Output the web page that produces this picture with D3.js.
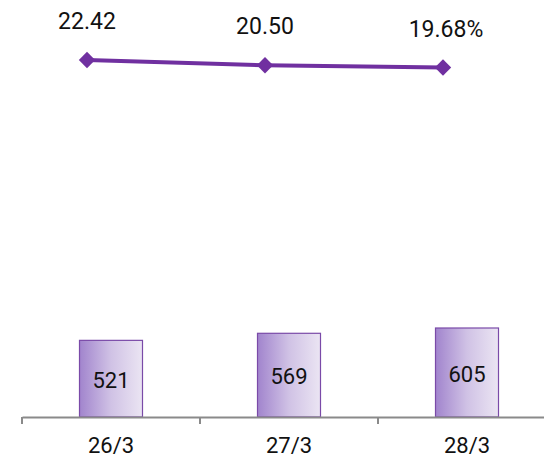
<!DOCTYPE html>
<html>
<head>
<meta charset="utf-8">
<script src="https://cdn.jsdelivr.net/npm/d3@7"></script>
<style>
  body { margin: 0; background: #fff; }
  text { font-family: Roboto, "Noto Sans CJK JP", sans-serif; fill: #111; }
</style>
</head>
<body>
<div id="chart"></div>
<script>
// data
const categories = ["26/3", "27/3", "28/3"];
const barValues = [521, 569, 605];
const rateValues = [22.42, 20.50, 19.68];
const rateLabels = ["22.42", "20.50", "19.68%"];

const width = 544, height = 460;

let svg = d3.select("#chart")
  .append("svg")
  .attr("width", width)
  .attr("height", height);

// gradient for bars
let defs = svg.append("defs");
let grad = defs.append("linearGradient")
  .attr("id", "barGrad")
  .attr("x1", "0%").attr("x2", "100%")
  .attr("y1", "0%").attr("y2", "0%");
grad.append("stop").attr("offset", "0%").attr("stop-color", "#a184cd");
grad.append("stop").attr("offset", "50%").attr("stop-color", "#d0c2e5");
grad.append("stop").attr("offset", "100%").attr("stop-color", "#ebe5f3");

// x scale (band)
const x = d3.scaleBand()
  .domain(categories)
  .range([22, 556])
  .paddingInner(0)
  .paddingOuter(0);

const baseY = 417;

// bar y scale
const yBar = d3.scaleLinear()
  .domain([0, 605])
  .range([baseY, 328]);

// line y scale
const yLine = d3.scaleLinear()
  .domain([19.68, 22.42])
  .range([67.5, 60]);

const barW = 63;

// bars
svg.append("g")
  .selectAll("rect")
  .data(barValues)
  .join("rect")
  .attr("x", (d, i) => x(categories[i]) + x.bandwidth() / 2 - barW / 2)
  .attr("y", d => yBar(d))
  .attr("width", barW)
  .attr("height", d => baseY - yBar(d))
  .attr("fill", "url(#barGrad)")
  .attr("stroke", "#7a4aa8")
  .attr("stroke-width", 1.2);

// bar labels
svg.append("g")
  .selectAll("text")
  .data(barValues)
  .join("text")
  .attr("x", (d, i) => x(categories[i]) + x.bandwidth() / 2)
  .attr("y", d => (yBar(d) + baseY) / 2 + 9)
  .attr("text-anchor", "middle")
  .attr("font-size", 22)
  .text(d => d);

// x axis
let axis = svg.append("g")
  .attr("transform", `translate(0, ${baseY})`)
  .call(d3.axisBottom(x).tickSize(0).tickPadding(19));
axis.select(".domain")
  .attr("stroke", "#8a8a8a")
  .attr("stroke-width", 2);
axis.selectAll("text")
  .attr("font-size", 22)
  .attr("dy", "0.75em")
  .style("font-family", 'Roboto, sans-serif')
  .attr("fill", "#111");

// boundary ticks
const tickPos = categories.map(c => x(c));
svg.append("g")
  .selectAll("line")
  .data(tickPos)
  .join("line")
  .attr("x1", d => d).attr("x2", d => d)
  .attr("y1", baseY).attr("y2", baseY + 7)
  .attr("stroke", "#8a8a8a")
  .attr("stroke-width", 2);

// line (points sit left of category centres)
const lineOffset = -24;
const px = (i) => x(categories[i]) + x.bandwidth() / 2 + lineOffset;

const line = d3.line()
  .x((d, i) => px(i))
  .y(d => yLine(d));

svg.append("path")
  .datum(rateValues)
  .attr("d", line)
  .attr("fill", "none")
  .attr("stroke", "#7030a0")
  .attr("stroke-width", 4);

svg.append("g")
  .selectAll("path")
  .data(rateValues)
  .join("path")
  .attr("transform", (d, i) => `translate(${px(i)}, ${yLine(d)})`)
  .attr("d", d3.symbol(d3.symbolDiamond2, 170))
  .attr("fill", "#7030a0");

// line labels
svg.append("g")
  .selectAll("text")
  .data(rateValues)
  .join("text")
  .attr("x", (d, i) => px(i) + (i === 2 ? 3 : 0))
  .attr("y", d => yLine(d) - 31)
  .attr("text-anchor", "middle")
  .attr("font-size", 23)
  .text((d, i) => rateLabels[i]);
</script>
</body>
</html>
